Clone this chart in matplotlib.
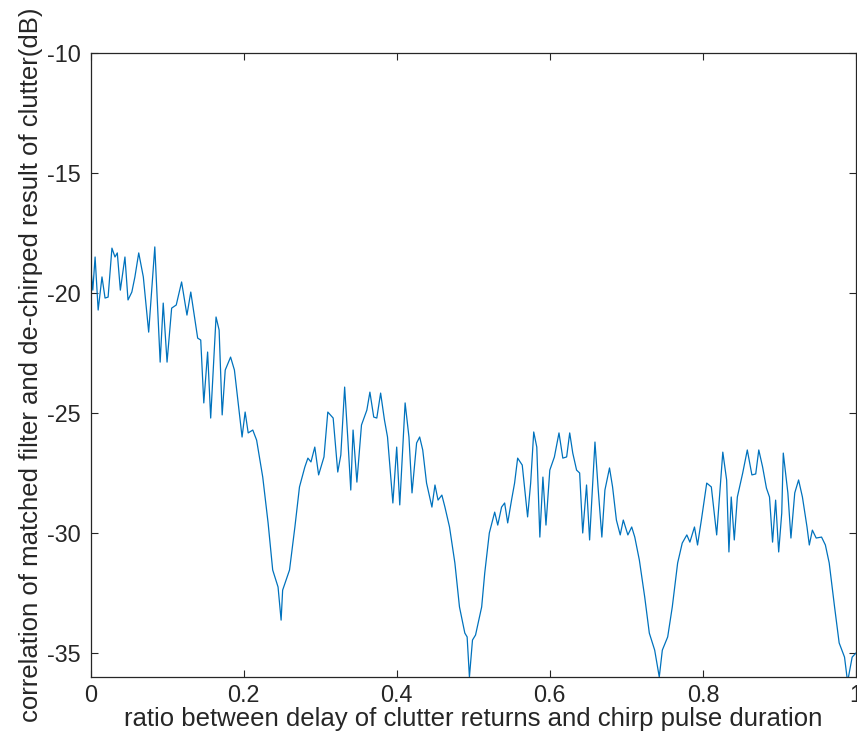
import matplotlib
matplotlib.use("Agg")
import matplotlib.pyplot as plt

# delay ratio (x) and correlation in dB (y)
ratio_a = [0.001, 0.003, 0.006, 0.010, 0.015, 0.019, 0.023, 0.028, 0.032, 0.035, 0.039, 0.045, 0.049, 0.054,
           0.058, 0.063, 0.069, 0.076, 0.084, 0.091, 0.095, 0.100, 0.106, 0.112, 0.119, 0.126, 0.131, 0.140,
           0.144, 0.148, 0.153, 0.157, 0.164, 0.168, 0.172, 0.176, 0.183, 0.188, 0.198, 0.202, 0.206, 0.212, 0.217]
corr_a = [-19.17, -19.88, -18.50, -20.71, -19.33, -20.21, -20.17, -18.13, -18.50, -18.33, -19.88, -18.50, -20.29, -19.96,
          -19.33, -18.33, -19.33, -21.63, -18.08, -22.88, -20.42, -22.88, -20.63, -20.50, -19.54, -20.92, -19.96, -21.88,
          -21.96, -24.58, -22.46, -25.21, -21.00, -21.54, -25.08, -23.21, -22.67, -23.21, -26.00, -24.96, -25.83, -25.71, -26.13]

ratio_b = [0.225, 0.232, 0.238, 0.245, 0.249, 0.251, 0.260, 0.267, 0.273, 0.280, 0.284, 0.288, 0.293, 0.298,
           0.305, 0.310, 0.317, 0.323, 0.327, 0.332, 0.336, 0.340, 0.343, 0.348, 0.354, 0.361, 0.365, 0.370,
           0.374, 0.379, 0.384, 0.388, 0.395, 0.400, 0.404]
corr_b = [-27.67, -29.58, -31.54, -32.25, -33.63, -32.38, -31.54, -29.75, -28.08, -27.25, -26.88, -27.04, -26.42, -27.58,
          -26.83, -24.96, -25.21, -27.46, -26.75, -23.92, -26.00, -28.21, -25.71, -27.88, -25.50, -24.88, -24.13, -25.17,
          -25.21, -24.17, -25.29, -26.00, -28.75, -26.42, -28.83]

ratio_c = [0.411, 0.416, 0.420, 0.426, 0.430, 0.434, 0.439, 0.446, 0.450, 0.454, 0.459, 0.463, 0.469, 0.476,
           0.482, 0.489, 0.492, 0.495, 0.499, 0.503, 0.511, 0.515, 0.521, 0.528, 0.532, 0.537, 0.541, 0.545,
           0.550, 0.554, 0.558, 0.564, 0.571, 0.575, 0.579, 0.583, 0.587, 0.591, 0.595, 0.600, 0.606, 0.612,
           0.617, 0.622, 0.626, 0.630, 0.635, 0.639, 0.643, 0.648, 0.652]
corr_c = [-24.58, -26.00, -28.33, -26.25, -26.00, -26.54, -27.92, -28.92, -28.00, -28.63, -28.42, -28.92, -29.75, -31.25,
          -33.08, -34.17, -34.33, -36.00, -34.46, -34.25, -33.08, -31.67, -30.00, -29.13, -29.67, -28.92, -28.75, -29.58,
          -28.63, -27.92, -26.88, -27.17, -29.33, -27.92, -25.79, -26.42, -30.17, -27.67, -29.67, -27.38, -26.83, -25.83,
          -26.88, -26.83, -25.83, -26.67, -27.38, -27.50, -30.00, -28.00, -30.29]

ratio_d = [0.659, 0.663, 0.668, 0.672, 0.678, 0.682, 0.687, 0.692, 0.696, 0.702, 0.707, 0.711, 0.717, 0.724,
           0.730, 0.737, 0.743, 0.747, 0.754, 0.760, 0.767, 0.773, 0.779, 0.783, 0.789, 0.793, 0.798, 0.805,
           0.811, 0.818, 0.822, 0.826, 0.831, 0.834, 0.837, 0.841, 0.845, 0.852, 0.858, 0.864, 0.869, 0.873,
           0.878, 0.883, 0.887, 0.891, 0.895, 0.899, 0.903, 0.905, 0.911, 0.915, 0.920, 0.925, 0.930, 0.936,
           0.939, 0.943, 0.948, 0.955, 0.960, 0.965, 0.972, 0.978, 0.985, 0.989, 0.995, 1.000]
corr_d = [-26.21, -28.08, -30.17, -28.21, -27.29, -28.08, -29.46, -30.08, -29.46, -30.08, -29.75, -30.17, -31.13, -32.67,
          -34.17, -34.88, -36.00, -34.88, -34.33, -33.08, -31.25, -30.42, -30.08, -30.38, -29.75, -30.50, -29.46, -27.92,
          -28.08, -30.08, -28.33, -26.63, -27.79, -30.79, -28.50, -30.29, -28.50, -27.50, -26.54, -27.58, -27.54, -26.54,
          -27.25, -28.13, -28.50, -30.38, -28.63, -30.79, -29.17, -26.67, -28.33, -30.21, -28.33, -27.79, -28.50, -29.75,
          -30.50, -29.88, -30.21, -30.17, -30.50, -31.25, -33.08, -34.58, -35.17, -36.20, -35.17, -35.00]

x_ticks = [0, 0.2, 0.4, 0.6, 0.8, 1]
x_tick_labels = ["0", "0.2", "0.4", "0.6", "0.8", "1"]
y_ticks = [-35, -30, -25, -20, -15, -10]
y_tick_labels = ["-35", "-30", "-25", "-20", "-15", "-10"]

ratio = ratio_a + ratio_b + ratio_c + ratio_d
corr = corr_a + corr_b + corr_c + corr_d

plt.rcParams['font.family'] = ['Liberation Sans', 'DejaVu Sans']
plt.rcParams['axes.unicode_minus'] = False

fig = plt.figure(figsize=(8.57, 7.44), dpi=100)
ax = fig.add_axes([90.5 / 857, (744 - 677) / 744, (856 - 90.5) / 857, (677 - 53) / 744])

ax.plot(ratio, corr, color='#0072BD', linewidth=0.9)

ax.set_xlim(0, 1)
ax.set_ylim(-36, -10)
ax.set_xticks(x_ticks)
ax.set_xticklabels(x_tick_labels)
ax.set_yticks(y_ticks)
ax.set_yticklabels(y_tick_labels)
ax.tick_params(direction='in', length=5, width=0.8, top=True, right=True,
               labelsize=16.8, colors='#262626')
ax.tick_params(axis='x', pad=5)
ax.tick_params(axis='y', pad=7)
for s in ax.spines.values():
    s.set_color('#262626')
    s.set_linewidth(0.9)

ax.set_xlabel('ratio between delay of clutter returns and chirp pulse duration', fontsize=18.5, color='#262626', labelpad=0)
ax.set_ylabel('correlation of matched filter and de-chirped result of clutter(dB)', fontsize=18.5, color='#262626', labelpad=3)

fig.savefig('out.png', dpi=100)
